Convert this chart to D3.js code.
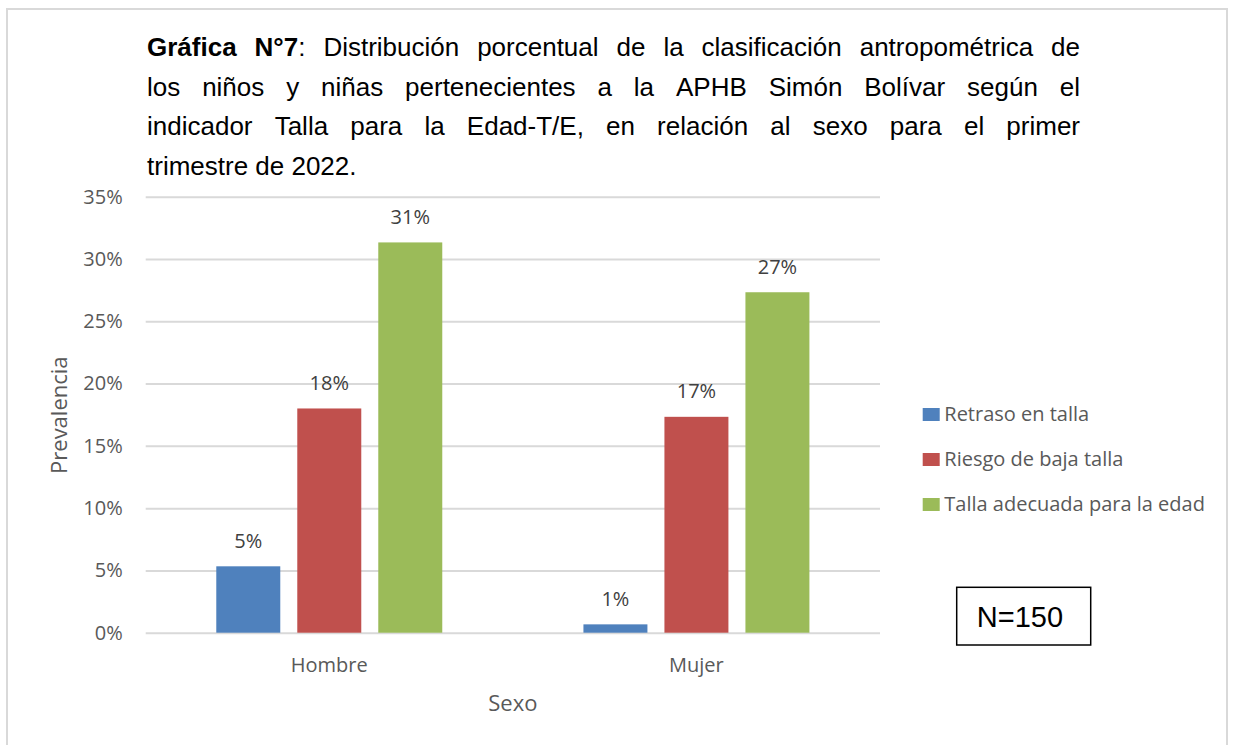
<!DOCTYPE html>
<html>
<head>
<meta charset="utf-8">
<script src="https://cdn.jsdelivr.net/npm/d3@7"></script>
<style>
  body { margin: 0; background: #fff; }
  svg { display: block; }
</style>
</head>
<body>
<svg id="chart" width="1233" height="745"></svg>
<script>
// Chart data (N=150)
const categories = ["Hombre", "Mujer"];
const seriesNames = ["Retraso en talla", "Riesgo de baja talla", "Talla adecuada para la edad"];
const seriesColors = ["#4F81BD", "#C0504D", "#9BBB59"];
const retrasoValues = [5.33, 0.67];
const riesgoValues = [18.0, 17.33];
const adecuadaValues = [31.33, 27.33];
const yTicks = [0, 5, 10, 15, 20, 25, 30, 35];
const titleLines = [
    "**Gráfica** **N°7**: Distribución porcentual de la clasificación antropométrica de",
    "los niños y niñas pertenecientes a la APHB Simón Bolívar según el",
    "indicador Talla para la Edad-T/E, en relación al sexo para el primer",
    "trimestre de 2022."
];
const xTitle = "Sexo";
const yTitle = "Prevalencia";
const noteText = "N=150";

const allValues = [retrasoValues, riesgoValues, adecuadaValues];
const data = [];
categories.forEach((c, i) => {
    seriesNames.forEach((s, j) => {
        data.push({cat: c, serie: s, value: allValues[j][i], color: seriesColors[j]});
    });
});

const svg = d3.select("#chart");
const tickFont = "'Open Sans', sans-serif";

// outer chart frame
svg.append("rect")
    .attr("x", 7).attr("y", 9)
    .attr("width", 1220).attr("height", 800)
    .attr("fill", "none")
    .attr("stroke", "#d9d9d9")
    .attr("stroke-width", 2);

// plot area
const plotLeft = 145.7, plotRight = 880, plotTop = 196.7, plotBottom = 632.7;

const yScale = d3.scaleLinear().domain([0, 35]).range([plotBottom, plotTop]);
const x0 = d3.scaleBand().domain(categories).range([plotLeft, plotRight])
    .paddingInner(0.3845).paddingOuter(0.19225);
const x1 = d3.scaleBand().domain(seriesNames).range([0, x0.bandwidth()])
    .paddingInner(0.21).paddingOuter(0);

// gridlines + y labels
const yAxis = svg.append("g")
    .attr("transform", `translate(${plotLeft},0)`)
    .call(d3.axisLeft(yScale)
        .tickValues(yTicks)
        .tickSize(-(plotRight - plotLeft))
        .tickPadding(23)
        .tickFormat(d => d + "%"));
yAxis.select(".domain").remove();
yAxis.selectAll(".tick line").attr("stroke", "#d9d9d9").attr("stroke-width", 2);
yAxis.selectAll(".tick text")
    .attr("fill", "#595959")
    .style("font-family", tickFont)
    .style("font-size", "20px");

// x labels
const xAxis = svg.append("g")
    .attr("transform", `translate(0,${plotBottom})`)
    .call(d3.axisBottom(x0).tickSize(0).tickPadding(25));
xAxis.select(".domain").remove();
xAxis.selectAll(".tick text")
    .attr("fill", "#595959")
    .style("font-family", tickFont)
    .style("font-size", "20px");

// bars
svg.append("g").selectAll("rect")
    .data(data)
    .enter()
    .append("rect")
    .attr("x", d => x0(d.cat) + x1(d.serie))
    .attr("y", d => yScale(d.value))
    .attr("width", x1.bandwidth())
    .attr("height", d => yScale(0) - yScale(d.value))
    .attr("fill", d => d.color);

// value labels
svg.append("g").selectAll("text")
    .data(data)
    .enter()
    .append("text")
    .attr("x", d => x0(d.cat) + x1(d.serie) + x1.bandwidth() / 2)
    .attr("y", d => yScale(d.value) - 18.7)
    .attr("text-anchor", "middle")
    .attr("fill", "#404040")
    .style("font-family", tickFont)
    .style("font-size", "20px")
    .text(d => Math.round(d.value) + "%");

// axis titles
svg.append("text")
    .attr("x", (plotLeft + plotRight) / 2)
    .attr("y", 711)
    .attr("text-anchor", "middle")
    .attr("fill", "#595959")
    .style("font-family", tickFont)
    .style("font-size", "22px")
    .text(xTitle);

svg.append("text")
    .attr("transform", `translate(67,${(plotTop + plotBottom) / 2 + 0.5}) rotate(-90)`)
    .attr("text-anchor", "middle")
    .attr("fill", "#595959")
    .style("font-family", tickFont)
    .style("font-size", "22px")
    .text(yTitle);

// legend
const legend = svg.append("g").selectAll("g")
    .data(seriesNames)
    .enter()
    .append("g")
    .attr("transform", (d, i) => `translate(922.7,${421 + i * 45})`);
legend.append("rect")
    .attr("x", 0).attr("y", -13)
    .attr("width", 17).attr("height", 13)
    .attr("fill", (d, i) => seriesColors[i]);
legend.append("text")
    .attr("x", 21.6)
    .attr("y", 0)
    .attr("fill", "#595959")
    .style("font-family", tickFont)
    .style("font-size", "20px")
    .text(d => d);

// N box
svg.append("rect")
    .attr("x", 956.7).attr("y", 587.3)
    .attr("width", 134).attr("height", 57.7)
    .attr("fill", "#fff")
    .attr("stroke", "#000")
    .attr("stroke-width", 1.5);
svg.append("text")
    .attr("x", 1020).attr("y", 626.7)
    .attr("text-anchor", "middle")
    .style("font-family", "'Liberation Sans', Arial, sans-serif")
    .style("font-size", "29px")
    .text(noteText);

// title, justified word by word (last line left aligned)
const titleLeft = 147, titleRight = 1080;
const titleG = svg.append("g")
    .style("font-family", "'Liberation Sans', Arial, sans-serif")
    .style("font-size", "26px")
    .attr("fill", "#000");

titleLines.forEach((line, li) => {
    const baseline = 56 + li * 39.5;
    const words = line.split(" ");
    const nodes = words.map(w => {
        const t = titleG.append("text").attr("y", baseline);
        // "**" toggles bold
        w.split("**").forEach((part, k) => {
            if (part === "") return;
            t.append("tspan")
                .style("font-weight", k % 2 === 1 ? "bold" : "normal")
                .text(part);
        });
        return t;
    });
    const widths = nodes.map(n => n.node().getComputedTextLength());
    const total = d3.sum(widths);
    const last = li === titleLines.length - 1;
    const gap = last ? 7.2 : (titleRight - titleLeft - total) / (words.length - 1);
    let x = titleLeft;
    nodes.forEach((n, i) => {
        n.attr("x", x);
        x += widths[i] + gap;
    });
});
</script>
</body>
</html>
